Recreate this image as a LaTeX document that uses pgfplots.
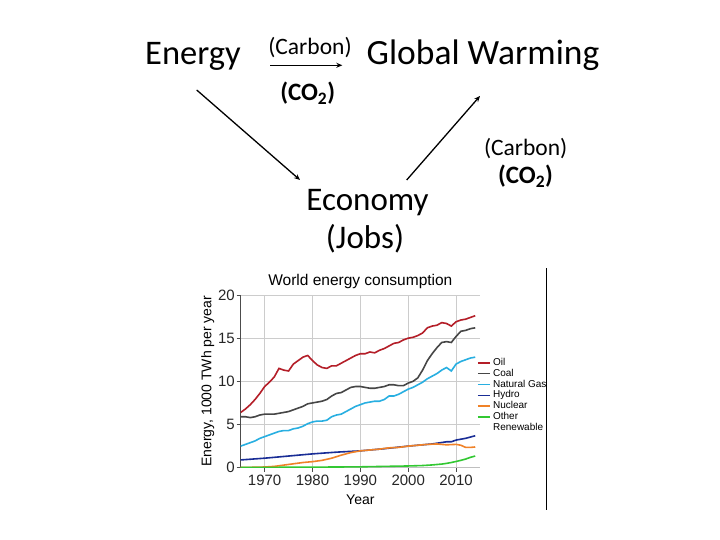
\documentclass[border=0pt]{standalone}
\usepackage{fontspec}
\setmainfont{Carlito}
\newfontfamily\arial{Liberation Sans}
\usepackage{pgfplots}
\pgfplotsset{compat=1.18}
\usetikzlibrary{arrows.meta}
\definecolor{oilc}{RGB}{180,30,40}
\definecolor{coalc}{RGB}{70,70,70}
\definecolor{gasc}{RGB}{40,175,225}
\definecolor{hydroc}{RGB}{25,45,150}
\definecolor{nucc}{RGB}{240,130,40}
\definecolor{renc}{RGB}{50,200,50}
\begin{document}
\begin{tikzpicture}[x=1bp,y=1bp]
\useasboundingbox (0,0) rectangle (720,540);
\fill[white] (0,0) rectangle (720,540);
% slide diagram
\node[anchor=base, inner sep=0pt, font=\fontsize{34.5bp}{40bp}\selectfont] at (193,475) {Energy};
\node[anchor=base, inner sep=0pt, font=\fontsize{35.5bp}{40bp}\selectfont] at (483,475) {Global Warming};
\node[anchor=base, inner sep=0pt, font=\fontsize{33bp}{40bp}\selectfont] at (367.5,329) {Economy};
\node[anchor=base, inner sep=0pt, font=\fontsize{33bp}{40bp}\selectfont] at (365,291) {(Jobs)};
\node[anchor=base, inner sep=0pt, font=\fontsize{23.5bp}{26bp}\selectfont] at (310,485) {(Carbon)};
\node[anchor=base, inner sep=0pt, font=\fontsize{25bp}{28bp}\selectfont\bfseries] at (307.7,439.3) {(CO$_{\mathbf 2}$)};
\node[anchor=base, inner sep=0pt, font=\fontsize{23.5bp}{26bp}\selectfont] at (525.7,384) {(Carbon)};
\node[anchor=base, inner sep=0pt, font=\fontsize{25bp}{28bp}\selectfont\bfseries] at (525.5,356.7) {(CO$_{\mathbf 2}$)};
\draw[line width=1.3bp, -{Stealth[length=6bp,width=5bp]}] (270,474.7) -- (342.3,474.7);
\draw[line width=1.3bp, -{Stealth[length=6bp,width=5bp]}] (196.7,450) -- (300,360);
\draw[line width=1.3bp, -{Stealth[length=6bp,width=5bp]}] (406.7,360) -- (480,444);
\draw[line width=1.5bp, black] (546.7,30) -- (546.7,272);
\begin{axis}[
  at={(240.7bp,72.3bp)}, anchor=south west,
  scale only axis, width=239.3bp, height=172.7bp,
  xmin=1965, xmax=2015, ymin=0, ymax=20,
  xtick={1970,1980,...,2010}, ytick={0,5,...,20},
  /pgf/number format/1000 sep={},
  /pgf/number format/assume math mode=true,
  axis x line*=bottom, axis y line*=left,
  axis line style={gray!60!black, line width=0.8bp},
  x axis line style={gray!50},
  grid=major, major grid style={gray!40, line width=0.8bp},
  tick align=outside, major tick length=4bp,
  tick style={gray!60!black, line width=0.8bp},
  ticklabel style={font=\arial\fontsize{15bp}{18bp}\selectfont, text=black!85},
  yticklabel style={xshift=1.5bp},
  title={World energy consumption},
  title style={font=\arial\fontsize{15.5bp}{18bp}\selectfont, yshift=-3bp},
  xlabel={Year}, ylabel={Energy, 1000 TWh per year},
  label style={font=\arial\fontsize{14bp}{17bp}\selectfont},
  xlabel style={yshift=-2bp},
  ylabel style={yshift=-3bp},
  legend image code/.code={\draw[#1, line width=1.4bp] (0bp,0bp) -- (12bp,0bp);},
  legend cell align=left,
  legend style={draw=none, fill=none, inner sep=0pt, at={(0.987,0.639)}, anchor=north west,
    font=\arial\fontsize{10bp}{11bp}\selectfont,
    nodes={inner sep=0.6bp, text height=7.4bp, text depth=2.2bp},
    /tikz/column sep=2bp},
  every axis plot/.append style={line width=1.6bp, no markers},
]
\addplot[oilc] coordinates {(1965,6.4)(1966,6.8)(1967,7.3)(1968,7.9)(1969,8.6)(1970,9.4)(1971,9.9)(1972,10.5)(1973,11.5)(1974,11.3)(1975,11.2)(1976,12.0)(1977,12.4)(1978,12.8)(1979,13.0)(1980,12.4)(1981,11.9)(1982,11.6)(1983,11.5)(1984,11.8)(1985,11.8)(1986,12.1)(1987,12.4)(1988,12.7)(1989,13.0)(1990,13.2)(1991,13.2)(1992,13.4)(1993,13.3)(1994,13.6)(1995,13.8)(1996,14.1)(1997,14.4)(1998,14.5)(1999,14.8)(2000,15.0)(2001,15.1)(2002,15.3)(2003,15.6)(2004,16.2)(2005,16.4)(2006,16.5)(2007,16.8)(2008,16.7)(2009,16.4)(2010,16.9)(2011,17.1)(2012,17.2)(2013,17.4)(2014,17.6)};
\addlegendentry{Oil}
\addplot[coalc] coordinates {(1965,5.9)(1966,5.9)(1967,5.8)(1968,5.9)(1969,6.1)(1970,6.2)(1971,6.2)(1972,6.2)(1973,6.3)(1974,6.4)(1975,6.5)(1976,6.7)(1977,6.9)(1978,7.1)(1979,7.4)(1980,7.5)(1981,7.6)(1982,7.7)(1983,7.9)(1984,8.3)(1985,8.6)(1986,8.7)(1987,9.0)(1988,9.3)(1989,9.4)(1990,9.4)(1991,9.3)(1992,9.2)(1993,9.2)(1994,9.3)(1995,9.4)(1996,9.6)(1997,9.6)(1998,9.5)(1999,9.5)(2000,9.8)(2001,10.0)(2002,10.4)(2003,11.3)(2004,12.4)(2005,13.2)(2006,13.9)(2007,14.5)(2008,14.6)(2009,14.5)(2010,15.2)(2011,15.8)(2012,15.9)(2013,16.1)(2014,16.2)};
\addlegendentry{Coal}
\addplot[gasc] coordinates {(1965,2.5)(1966,2.7)(1967,2.9)(1968,3.1)(1969,3.4)(1970,3.6)(1971,3.8)(1972,4.0)(1973,4.2)(1974,4.3)(1975,4.3)(1976,4.5)(1977,4.6)(1978,4.8)(1979,5.1)(1980,5.3)(1981,5.4)(1982,5.4)(1983,5.5)(1984,5.9)(1985,6.1)(1986,6.2)(1987,6.5)(1988,6.8)(1989,7.1)(1990,7.3)(1991,7.5)(1992,7.6)(1993,7.7)(1994,7.7)(1995,7.9)(1996,8.3)(1997,8.3)(1998,8.5)(1999,8.8)(2000,9.1)(2001,9.3)(2002,9.6)(2003,9.9)(2004,10.3)(2005,10.6)(2006,10.9)(2007,11.3)(2008,11.6)(2009,11.2)(2010,12.0)(2011,12.3)(2012,12.5)(2013,12.7)(2014,12.8)};
\addlegendentry{Natural Gas}
\addplot[hydroc] coordinates {(1965,0.9)(1970,1.1)(1975,1.35)(1980,1.6)(1985,1.8)(1990,1.95)(1995,2.2)(2000,2.5)(2005,2.75)(2008,3.0)(2009,3.0)(2010,3.2)(2012,3.4)(2014,3.7)};
\addlegendentry{Hydro}
\addplot[nucc] coordinates {(1965,0.03)(1968,0.05)(1970,0.08)(1972,0.15)(1974,0.3)(1976,0.45)(1978,0.6)(1980,0.7)(1982,0.85)(1984,1.1)(1986,1.45)(1988,1.75)(1990,1.95)(1992,2.05)(1994,2.15)(1996,2.3)(1998,2.35)(2000,2.5)(2002,2.6)(2004,2.7)(2006,2.75)(2007,2.7)(2008,2.65)(2010,2.7)(2011,2.6)(2012,2.35)(2013,2.35)(2014,2.4)};
\addlegendentry{Nuclear}
\addplot[renc] coordinates {(1965,0.03)(1975,0.05)(1985,0.08)(1990,0.1)(1995,0.15)(2000,0.2)(2003,0.25)(2005,0.32)(2007,0.42)(2008,0.5)(2009,0.6)(2010,0.72)(2011,0.85)(2012,1.0)(2013,1.2)(2014,1.35)};
\addlegendentry{Other}
\addlegendimage{empty legend}
\addlegendentry{Renewable}
\end{axis}
\end{tikzpicture}
\end{document}
